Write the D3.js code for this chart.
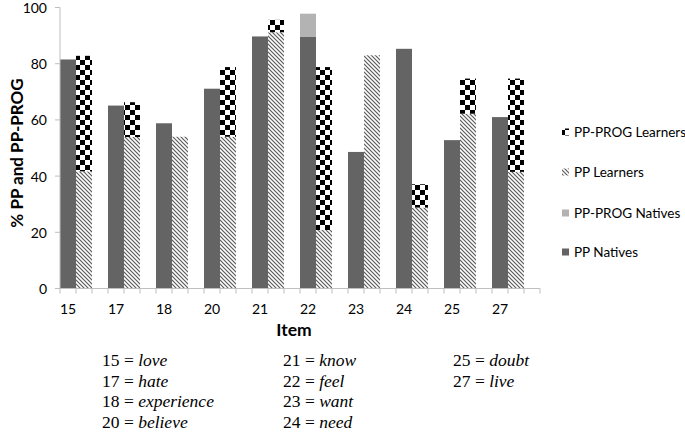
<!DOCTYPE html>
<html><head><meta charset="utf-8">
<script src="https://cdn.jsdelivr.net/npm/d3@7/dist/d3.min.js"></script>
<style>body{margin:0;background:#fff}svg{display:block}
.serif{font-family:"Liberation Serif","Times New Roman",Times,"DejaVu Serif",serif}
.sans{font-family:Lato,"Open Sans",sans-serif}</style>
</head><body>
<svg id="c" width="685" height="433"></svg>
<script>
const items = ["15","17","18","20","21","22","23","24","25","27"];
const ppNatives      = [81.5, 65.1, 58.8, 71.1, 89.7, 89.5, 48.6, 85.3, 52.8, 61.0];
const ppProgNatives  = [0, 0, 0, 0, 0, 8.3, 0, 0, 0, 0];
const ppLearners     = [41.7, 53.9, 54.0, 54.0, 91.2, 20.8, 83.0, 28.8, 62.2, 41.5];
const ppProgLearners = [41.1, 12.4, 0, 24.8, 4.4, 58.0, 0, 8.3, 12.5, 33.2];
const yTicks = [0, 20, 40, 60, 80, 100];
const legendLabels = ["PP-PROG Learners", "PP Learners", "PP-PROG Natives", "PP Natives"];
const glossCols = [
  [["15","love"],["17","hate"],["18","experience"],["20","believe"]],
  [["21","know"],["22","feel"],["23","want"],["24","need"]],
  [["25","doubt"],["27","live"]]
];

const svg = d3.select("#c");
svg.append("rect").attr("width",685).attr("height",433).attr("fill","#fff");
const defs = svg.append("defs");
const chk = defs.append("pattern").attr("id","chk").attr("patternUnits","userSpaceOnUse")
  .attr("width",10).attr("height",10);
chk.append("rect").attr("width",10).attr("height",10).attr("fill","#fff");
chk.append("rect").attr("width",5).attr("height",5).attr("fill","#000");
chk.append("rect").attr("x",5).attr("y",5).attr("width",5).attr("height",5).attr("fill","#000");
const hat = defs.append("pattern").attr("id","hat").attr("patternUnits","userSpaceOnUse")
  .attr("width",4).attr("height",4);
hat.append("rect").attr("width",4).attr("height",4).attr("fill","#fff");
hat.append("path").attr("d","M-1,-1 L5,5 M-1,3 L1,5 M3,-1 L5,1")
  .attr("stroke","#5a5a5a").attr("stroke-width",1.2);

const colors = {ppN:"#646464", progN:"#b3b3b3", ppL:"url(#hat)", progL:"url(#chk)"};

const x0 = d3.scaleBand().domain(items).range([60,540]);
const x1 = d3.scaleBand().domain(["N","L","gap"]).range([0, x0.bandwidth()]);
const y = d3.scaleLinear().domain([0,100]).range([288.5,7.5]);

// bars
const g = svg.append("g");
items.forEach((it,i)=>{
  const segs = [
    {slot:"N", y0:0, y1:ppNatives[i], fill:colors.ppN},
    {slot:"N", y0:ppNatives[i], y1:ppNatives[i]+ppProgNatives[i], fill:colors.progN},
    {slot:"L", y0:0, y1:ppLearners[i], fill:colors.ppL},
    {slot:"L", y0:ppLearners[i], y1:ppLearners[i]+ppProgLearners[i], fill:colors.progL}
  ];
  segs.filter(s=>s.y1>s.y0).forEach(s=>{
    g.append("rect")
      .attr("x", x0(it)+x1(s.slot))
      .attr("width", x1.bandwidth())
      .attr("y", y(s.y1))
      .attr("height", y(s.y0)-y(s.y1))
      .attr("fill", s.fill);
  });
});

// y axis
const axisCol = "#bfbfbf";
svg.append("line").attr("x1",60).attr("x2",60).attr("y1",y(100)).attr("y2",y(0))
  .attr("stroke",axisCol);
yTicks.forEach(t=>{
  svg.append("line").attr("x1",55).attr("x2",60).attr("y1",y(t)).attr("y2",y(t)).attr("stroke",axisCol);
  svg.append("text").attr("class","sans").attr("x",47).attr("y",y(t)+0.5).attr("dy","0.35em").attr("text-anchor","end")
    .attr("font-size",14).attr("fill","#000").text(t);
});
// x axis
svg.append("line").attr("x1",60).attr("x2",540).attr("y1",y(0)).attr("y2",y(0)).attr("stroke",axisCol);
const tickXs = [];
items.forEach(it=>x1.domain().forEach(s=>tickXs.push(x0(it)+x1(s))));
tickXs.push(x0.range()[1]);
tickXs.forEach(tx=>{
  svg.append("line").attr("x1",tx).attr("x2",tx).attr("y1",y(0)).attr("y2",y(0)+5).attr("stroke",axisCol);
});
items.forEach(it=>{
  svg.append("text").attr("class","sans").attr("x",x0(it)+x1("N")+x1.bandwidth()/2).attr("y",309).attr("dy","0.35em")
    .attr("text-anchor","middle").attr("font-size",14).text(it);
});
// axis titles
svg.append("text").attr("class","sans").attr("x",294).attr("y",330).attr("dy","0.35em").attr("text-anchor","middle")
  .attr("font-weight","bold").attr("font-size",17.5).text("Item");
svg.append("text").attr("class","sans").attr("transform","translate(17,153) rotate(-90)").attr("dy","0.35em")
  .attr("text-anchor","middle").attr("font-weight","bold").attr("font-size",17).text("% PP and PP-PROG");

// legend
const legFills = [colors.progL, colors.ppL, colors.progN, colors.ppN];
const legY = [132, 172, 213, 252];
legendLabels.forEach((l,i)=>{
  svg.append("rect").attr("x",562).attr("y",legY[i]-3.5).attr("width",7).attr("height",7).attr("fill",legFills[i]);
  svg.append("text").attr("class","sans").attr("x",574).attr("y",legY[i]).attr("dy","0.35em")
    .attr("font-size",13.5).text(l);
});

// gloss
const colX = [102, 283, 453];
glossCols.forEach((col,ci)=>{
  col.forEach((p,ri)=>{
    const t = svg.append("text").attr("class","serif").attr("x",colX[ci]).attr("y",366+ri*20.7)
      .attr("font-size",17.5);
    t.append("tspan").attr("class","serif").text(p[0]+" = ");
    t.append("tspan").attr("class","serif").attr("font-style","italic").text(p[1]);
  });
});
</script>
</body></html>
